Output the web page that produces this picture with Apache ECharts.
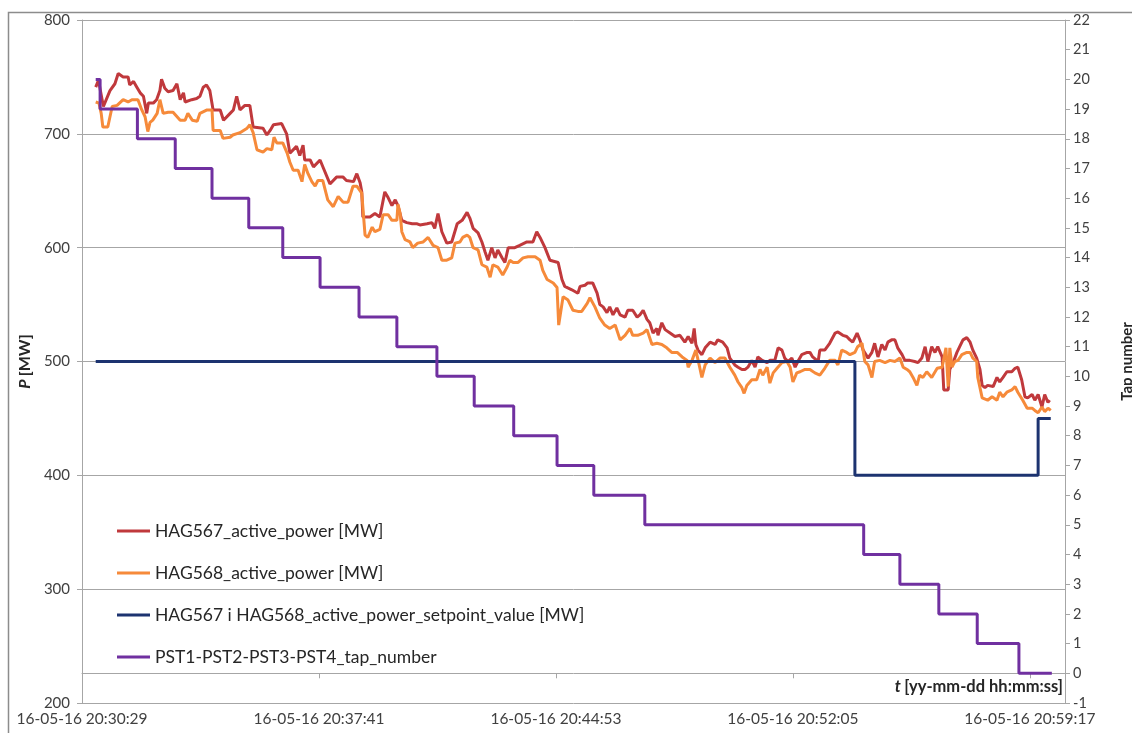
<!DOCTYPE html>
<html>
<head>
<meta charset="utf-8">
<script src="https://cdn.jsdelivr.net/npm/echarts@6.0.0/dist/echarts.min.js"></script>
<style>
html,body{margin:0;padding:0;background:#fff;}
#chart{width:1132px;height:733px;}
</style>
</head>
<body>
<div id="chart"></div>
<script>
// time in seconds after 16-05-16 20:30:29
const startTime = '20:30:29';
const datePrefix = '16-05-16 ';
const xTickSeconds = [0, 432, 864, 1296, 1728];

const seriesNames = [
  'HAG567_active_power [MW]',
  'HAG568_active_power [MW]',
  'HAG567 i HAG568_active_power_setpoint_value [MW]',
  'PST1-PST2-PST3-PST4_tap_number'
];

const hag567 = [[25,741],[30,747],[39,724],[51,738],[60,744],[66,753],[75,750],[84,750],[87,743],[94,746],[100,741],[106,736],[112,733],[118,718],[121,727],[130,727],[136,730],[142,738],[145,748],[151,740],[157,737],[166,738],[173,744],[179,730],[185,736],[188,728],[200,730],[209,731],[215,733],[221,741],[227,743],[233,738],[239,721],[252,721],[258,712],[270,718],[276,721],[282,733],[288,721],[297,725],[306,725],[312,706],[330,705],[337,699],[343,703],[349,708],[364,709],[373,700],[379,683],[391,689],[397,681],[403,690],[406,677],[416,677],[422,671],[434,677],[440,670],[452,656],[464,662],[476,662],[482,659],[495,658],[501,665],[507,657],[510,649],[512,627],[525,627],[534,630],[543,627],[552,649],[558,644],[565,637],[571,642],[576,637],[583,624],[592,622],[602,621],[611,621],[616,620],[629,621],[638,622],[643,617],[649,630],[656,614],[665,604],[674,605],[684,621],[693,624],[702,631],[707,626],[713,617],[722,613],[729,605],[735,596],[740,589],[747,600],[753,591],[758,598],[766,591],[771,587],[777,600],[789,600],[798,602],[811,605],[822,605],[829,614],[835,609],[844,600],[853,589],[868,587],[875,572],[880,566],[893,563],[904,560],[908,566],[917,567],[922,569],[931,569],[939,560],[944,550],[950,548],[957,543],[962,548],[968,541],[975,547],[981,541],[990,539],[995,545],[1004,545],[1012,539],[1017,541],[1023,545],[1030,537],[1035,534],[1041,525],[1048,529],[1050,523],[1057,534],[1063,528],[1072,525],[1081,522],[1090,523],[1099,517],[1105,522],[1112,516],[1116,529],[1119,515],[1123,510],[1130,506],[1136,512],[1145,517],[1154,515],[1159,519],[1168,517],[1176,512],[1181,503],[1190,497],[1196,495],[1203,493],[1209,493],[1214,495],[1221,501],[1227,495],[1232,504],[1240,501],[1249,499],[1254,501],[1263,501],[1269,512],[1276,510],[1281,503],[1287,500],[1294,503],[1300,495],[1305,500],[1312,506],[1322,508],[1327,508],[1332,504],[1342,500],[1345,510],[1354,510],[1363,516],[1373,525],[1378,526],[1387,523],[1394,522],[1400,519],[1405,517],[1413,525],[1414,526],[1418,519],[1424,510],[1433,503],[1440,508],[1445,516],[1451,504],[1458,515],[1464,510],[1469,517],[1476,519],[1482,519],[1487,512],[1495,506],[1500,501],[1509,501],[1518,500],[1524,499],[1531,503],[1537,513],[1542,500],[1549,513],[1555,508],[1560,513],[1568,504],[1571,475],[1579,475],[1582,493],[1588,499],[1595,508],[1600,513],[1606,519],[1613,521],[1619,517],[1624,510],[1631,503],[1637,493],[1641,479],[1646,477],[1651,479],[1661,478],[1668,486],[1673,482],[1679,486],[1686,491],[1695,491],[1701,494],[1706,495],[1713,484],[1719,469],[1724,468],[1732,471],[1737,466],[1743,471],[1750,460],[1755,471],[1761,464],[1764,466]];

const hag568 = [[25,728],[31,727],[35,718],[38,706],[47,706],[55,724],[64,725],[75,730],[84,728],[91,730],[102,730],[109,721],[115,715],[120,702],[124,710],[129,712],[137,718],[142,730],[148,718],[157,719],[166,719],[179,712],[188,712],[193,718],[201,712],[210,711],[215,718],[228,721],[237,721],[239,703],[252,703],[257,696],[270,697],[275,699],[288,701],[301,705],[306,708],[312,701],[319,686],[330,684],[337,687],[346,686],[350,697],[355,692],[366,692],[374,683],[379,675],[385,668],[394,668],[401,658],[406,673],[412,665],[419,658],[425,654],[430,659],[439,659],[448,642],[458,636],[467,645],[476,640],[485,640],[494,654],[501,654],[510,648],[516,611],[521,609],[529,618],[534,614],[543,616],[549,629],[558,629],[565,624],[574,624],[576,638],[580,630],[583,614],[589,607],[598,605],[603,600],[612,604],[622,605],[631,609],[640,602],[649,600],[656,589],[665,589],[674,591],[680,604],[689,605],[694,609],[702,611],[707,609],[713,600],[722,598],[729,585],[738,583],[744,574],[749,585],[758,583],[767,576],[775,583],[780,589],[786,587],[795,587],[804,591],[813,592],[826,592],[835,589],[840,580],[848,572],[859,569],[866,565],[869,532],[877,557],[886,554],[895,545],[904,544],[911,544],[921,551],[926,556],[935,548],[944,538],[953,532],[962,529],[972,532],[981,519],[990,523],[999,529],[1004,523],[1013,523],[1023,525],[1030,528],[1039,515],[1048,516],[1057,515],[1066,512],[1075,508],[1085,508],[1094,504],[1103,501],[1105,495],[1112,501],[1119,510],[1126,495],[1130,486],[1136,497],[1145,503],[1154,499],[1163,503],[1172,503],[1181,495],[1190,488],[1196,482],[1203,477],[1207,472],[1212,479],[1221,484],[1230,484],[1236,493],[1241,488],[1249,495],[1254,481],[1260,490],[1267,494],[1276,499],[1285,500],[1291,495],[1296,482],[1303,490],[1309,491],[1318,493],[1327,493],[1336,490],[1345,488],[1354,494],[1363,501],[1373,501],[1378,497],[1385,510],[1394,508],[1400,506],[1409,508],[1414,513],[1422,516],[1427,500],[1433,497],[1440,486],[1445,500],[1454,501],[1464,499],[1473,501],[1482,500],[1491,503],[1497,495],[1504,493],[1509,491],[1515,486],[1522,479],[1527,488],[1533,486],[1540,491],[1549,486],[1559,494],[1568,495],[1575,512],[1579,478],[1582,512],[1586,495],[1591,500],[1597,501],[1604,506],[1613,508],[1619,508],[1624,503],[1631,500],[1633,486],[1641,468],[1651,466],[1659,469],[1668,466],[1673,473],[1679,469],[1686,473],[1695,475],[1701,478],[1706,473],[1715,466],[1723,459],[1732,459],[1737,457],[1743,455],[1750,460],[1755,456],[1761,459],[1766,457]];

const setpoint = [[25,500],[1409,400],[1743,450],[1766,450]];

const tapNumber = [[25,20],[33,19],[101,18],[170,17],[237,16],[304,15],[366,14],[434,13],[505,12],[574,11],[647,10],[715,9],[787,8],[866,7],[933,6],[1026,5],[1425,4],[1491,3],[1562,2],[1632,1],[1708,0],[1768,0]];

function fmtTime(sec) {
  const p = startTime.split(':').map(Number);
  let s = p[0] * 3600 + p[1] * 60 + p[2] + Math.round(sec);
  const hh = Math.floor(s / 3600), mm = Math.floor((s % 3600) / 60), ss = s % 60;
  const z = n => (n < 10 ? '0' : '') + n;
  return datePrefix + z(hh) + ':' + z(mm) + ':' + z(ss);
}

const FONT = 'Lato';
const LABEL = '#404040';
const GRID = '#a6a6a6';

const chart = echarts.init(document.getElementById('chart'), null, {renderer: 'canvas'});
chart.setOption({
  animation: false,
  backgroundColor: '#fff',
  textStyle: {fontFamily: FONT},
  grid: {left: 82, right: 67, top: 20, bottom: 30, containLabel: false, outerBoundsMode: 'none'},
  legend: {
    orient: 'vertical',
    left: 112,
    top: 517,
    itemWidth: 33,
    itemHeight: 3,
    itemGap: 24,
    icon: 'rect',
    textStyle: {fontFamily: FONT, fontSize: 17.5, color: '#262626'},
    data: seriesNames
  },
  xAxis: {
    type: 'value',
    min: 0,
    max: 1792,
    splitLine: {show: false},
    axisLine: {show: true, lineStyle: {color: GRID, width: 1}},
    axisTick: {show: true, length: 5, customValues: xTickSeconds, lineStyle: {color: GRID}},
    axisLabel: {
      customValues: xTickSeconds,
      formatter: v => fmtTime(v),
      fontFamily: FONT, fontSize: 15.5, color: LABEL, margin: 8
    }
  },
  yAxis: [
    {
      type: 'value',
      min: 200, max: 800, interval: 100,
      position: 'left',
      name: '{it|P} {b|[MW]}',
      nameLocation: 'middle',
      nameRotate: 90,
      nameGap: 38,
      nameTextStyle: {
        rich: {
          it: {fontFamily: FONT, fontSize: 16, fontWeight: 'bold', fontStyle: 'italic', color: '#262626'},
          b: {fontFamily: FONT, fontSize: 16, fontWeight: 'bold', color: '#262626'}
        }
      },
      axisLine: {show: true, lineStyle: {color: GRID}},
      axisTick: {show: true, length: 5, lineStyle: {color: GRID}},
      splitLine: {show: true, lineStyle: {color: GRID, width: 1}},
      axisLabel: {fontFamily: FONT, fontSize: 15, color: LABEL, margin: 12}
    },
    {
      type: 'value',
      min: -1, max: 22, interval: 1,
      position: 'right',
      name: 'Tap number',
      nameLocation: 'middle',
      nameRotate: 90,
      nameGap: 55,
      nameTextStyle: {fontFamily: FONT, fontSize: 15, fontWeight: 'bold', color: '#262626'},
      axisLine: {show: true, lineStyle: {color: GRID}},
      axisTick: {show: true, length: 5, lineStyle: {color: GRID}},
      splitLine: {show: false},
      axisLabel: {fontFamily: FONT, fontSize: 14.5, color: LABEL, margin: 8}
    }
  ],
  graphic: [
    {
      type: 'rect', left: 6, top: 10, silent: true, z: -10,
      shape: {width: 1300, height: 900},
      style: {fill: 'none', stroke: '#8c8c8c', lineWidth: 1.5}
    },
    {
      type: 'text', right: 69, top: 678, silent: true,
      style: {
        text: '{it|t} {b|[yy-mm-dd hh:mm:ss]}',
        rich: {
          it: {fontFamily: FONT, fontSize: 16.5, fontWeight: 'bold', fontStyle: 'italic', fill: '#262626'},
          b: {fontFamily: FONT, fontSize: 16.5, fontWeight: 'bold', fill: '#262626'}
        }
      }
    }
  ],
  series: [
    {
      name: seriesNames[0], type: 'line', yAxisIndex: 0, data: hag567,
      showSymbol: false, symbol: 'none', color: '#c0393c',
      lineStyle: {width: 3, color: '#c0393c'}
    },
    {
      name: seriesNames[1], type: 'line', yAxisIndex: 0, data: hag568,
      showSymbol: false, symbol: 'none', color: '#f68a3a',
      lineStyle: {width: 3, color: '#f68a3a'}
    },
    {
      name: seriesNames[2], type: 'line', yAxisIndex: 0, data: setpoint, step: 'end',
      showSymbol: false, symbol: 'none', color: '#1c3370',
      lineStyle: {width: 3, color: '#1c3370'}
    },
    {
      name: seriesNames[3], type: 'line', yAxisIndex: 1, data: tapNumber, step: 'end',
      showSymbol: false, symbol: 'none', color: '#7030a0',
      lineStyle: {width: 3, color: '#7030a0'}
    }
  ]
});
</script>
</body>
</html>
